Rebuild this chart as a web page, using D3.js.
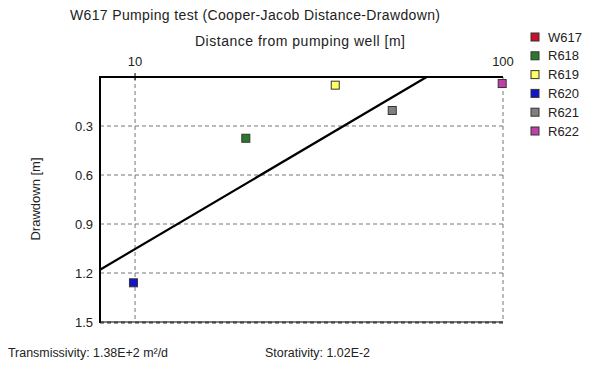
<html>
<head>
<script src="https://d3js.org/d3.v7.min.js"></script>
<style>
  body { margin: 0; background: #fff; }
  text { font-family: "Liberation Sans", Arial, sans-serif; fill: #222; }
  .grid line { stroke: #777; stroke-dasharray: 4,3; }
</style>
</head>
<body>
<svg id="chart" width="595" height="370"></svg>
<script>
// wells and their measurements
const wells = ["W617", "R618", "R619", "R620", "R621", "R622"];
const wellColors = ["#c8102e", "#2a7a2a", "#ffff66", "#1414c8", "#808080", "#c040a8"];
const distances = [null, 20, 35, 9.9, 50, 99.5];   // m
const drawdowns = [null, 0.375, 0.05, 1.26, 0.205, 0.04]; // m
// fitted Cooper-Jacob line end points [distance, drawdown]
const fitLine = [[8.03, 1.18], [62, 0]];
const yTicks = [0.3, 0.6, 0.9, 1.2, 1.5];
const xTicks = [10, 100];
const transmissivity = "Transmissivity: 1.38E+2 m\u00b2/d";
const storativity = "Storativity: 1.02E-2";

const svg = d3.select("#chart");
const pLeft = 100, pRight = 503, pTop = 77, pBottom = 322;

const x = d3.scaleLog().domain([8.03, 100]).range([pLeft, pRight]);
const y = d3.scaleLinear().domain([0, 1.5]).range([pTop, pBottom]);

// title and axis titles
svg.append("text").attr("x", 70).attr("y", 20).style("font-size", "14px")
  .attr("textLength", 370).attr("lengthAdjust", "spacing")
  .text("W617 Pumping test (Cooper-Jacob Distance-Drawdown)");
svg.append("text").attr("x", 195).attr("y", 46).style("font-size", "14px")
  .attr("textLength", 210).attr("lengthAdjust", "spacing")
  .text("Distance from pumping well [m]");
svg.append("text").attr("transform", "translate(40,199) rotate(-90)").attr("text-anchor", "middle")
  .style("font-size", "13px").text("Drawdown [m]");

// gridlines
const grid = svg.append("g").attr("class", "grid");
grid.selectAll(".h").data(yTicks).join("line")
  .attr("x1", pLeft).attr("x2", pRight)
  .attr("y1", d => y(d)).attr("y2", d => y(d));
grid.selectAll(".v").data(xTicks).join("line")
  .attr("x1", d => x(d)).attr("x2", d => x(d))
  .attr("y1", pTop).attr("y2", pBottom);

// tick labels
svg.selectAll(".yl").data(yTicks).join("text")
  .attr("x", 93).attr("y", d => y(d)).attr("dy", "0.35em")
  .attr("text-anchor", "end").style("font-size", "13px").text(d => d.toFixed(1));
svg.selectAll(".xl").data(xTicks).join("text")
  .attr("x", d => x(d)).attr("y", 66)
  .attr("text-anchor", "middle").style("font-size", "13px").text(d => d);

// frame: solid left and top, dashed-ish bottom
svg.append("line").attr("x1", pLeft).attr("x2", pRight).attr("y1", pTop).attr("y2", pTop)
  .attr("stroke", "#000").attr("stroke-width", 2);
svg.append("line").attr("x1", pLeft).attr("x2", pLeft).attr("y1", pTop - 1).attr("y2", pBottom + 1)
  .attr("stroke", "#000").attr("stroke-width", 2);
svg.append("line").attr("x1", pLeft).attr("x2", pRight).attr("y1", pBottom).attr("y2", pBottom)
  .attr("stroke", "#000").attr("stroke-width", 1);
svg.append("line").attr("x1", pLeft).attr("x2", pRight).attr("y1", pBottom + 1).attr("y2", pBottom + 1)
  .attr("stroke", "#333").attr("stroke-width", 1).attr("stroke-dasharray", "4,3");
svg.append("line").attr("x1", x(10)).attr("x2", x(10)).attr("y1", pTop - 4).attr("y2", pTop + 3)
  .attr("stroke", "#000");

// fitted line
svg.append("path").datum(fitLine)
  .attr("d", d3.line().x(d => x(d[0])).y(d => y(d[1])))
  .attr("stroke", "#000").attr("stroke-width", 2.2).attr("fill", "none");

// points
const pts = wells.map((w, i) => ({ w, c: wellColors[i], r: distances[i], s: drawdowns[i] }))
  .filter(d => d.r !== null);
svg.selectAll(".pt").data(pts).join("rect")
  .attr("x", d => x(d.r) - 4).attr("y", d => y(d.s) - 4)
  .attr("width", 8).attr("height", 8)
  .attr("fill", d => d.c).attr("stroke", "#333").attr("stroke-width", 1);

// legend
const lg = svg.append("g").attr("transform", "translate(531,33)");
lg.selectAll("rect").data(wells).join("rect")
  .attr("x", 0).attr("y", (d, i) => i * 18.8)
  .attr("width", 8).attr("height", 8)
  .attr("fill", (d, i) => wellColors[i]).attr("stroke", "#333");
lg.selectAll("text").data(wells).join("text")
  .attr("x", 17).attr("y", (d, i) => i * 18.8 + 4).attr("dy", "0.35em")
  .style("font-size", "13px").text(d => d);

// results
svg.append("text").attr("x", 8).attr("y", 357).style("font-size", "12px")
  .attr("textLength", 160).attr("lengthAdjust", "spacingAndGlyphs").text(transmissivity);
svg.append("text").attr("x", 265).attr("y", 357).style("font-size", "12px")
  .attr("textLength", 105).attr("lengthAdjust", "spacingAndGlyphs").text(storativity);
</script>
</body>
</html>
